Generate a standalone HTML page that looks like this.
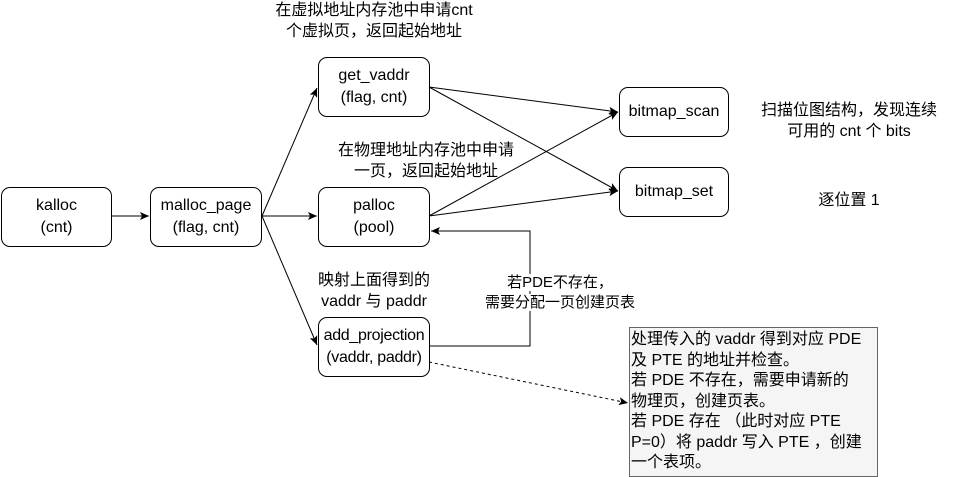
<!DOCTYPE html>
<html><head><meta charset="utf-8"><style>
body{margin:0;background:#fff;}
.wrap{position:relative;width:957px;height:477px;overflow:hidden;font-family:"Liberation Sans","Noto Sans CJK SC",sans-serif;font-size:16px;color:#000;}
.n{position:absolute;box-sizing:border-box;border:1px solid #000;border-radius:9px;background:#fff;display:flex;align-items:center;justify-content:center;text-align:center;line-height:22px;}
.t{position:absolute;text-align:center;line-height:21px;white-space:nowrap;}
</style></head><body><div class="wrap">
<svg width="957" height="477" style="position:absolute;left:0;top:0">
<defs><marker id="a" markerWidth="10" markerHeight="10" refX="9" refY="5" orient="auto" markerUnits="userSpaceOnUse"><path d="M0,1 L9,5 L0,9 L2,5 Z" fill="#000"/></marker></defs>
<g stroke="#000" stroke-width="1" fill="none">
<line x1="112" y1="216" x2="149" y2="216" marker-end="url(#a)"/>
<line x1="262" y1="216" x2="317" y2="88" marker-end="url(#a)"/>
<line x1="262" y1="216" x2="317" y2="216" marker-end="url(#a)"/>
<line x1="262" y1="216" x2="317" y2="345" marker-end="url(#a)"/>
<line x1="429" y1="87" x2="618" y2="112" marker-end="url(#a)"/>
<line x1="429" y1="87" x2="618" y2="191" marker-end="url(#a)"/>
<line x1="429" y1="216" x2="618" y2="112" marker-end="url(#a)"/>
<line x1="429" y1="216" x2="618" y2="191" marker-end="url(#a)"/>
<polyline points="429,346 530,346 530,231 431,231" marker-end="url(#a)"/>
<line x1="429" y1="362" x2="628" y2="403" stroke-dasharray="3,3" marker-end="url(#a)"/>
</g></svg>
<div class="n" style="left:1px;top:187px;width:111px;height:60px">kalloc<br>(cnt)</div>
<div class="n" style="left:150px;top:187px;width:112px;height:60px">malloc_page<br>(flag, cnt)</div>
<div class="n" style="left:318px;top:57px;width:112px;height:60px">get_vaddr<br>(flag, cnt)</div>
<div class="n" style="left:318px;top:187px;width:112px;height:60px">palloc<br>(pool)</div>
<div class="n" style="left:318px;top:317px;width:112px;height:60px;letter-spacing:-0.3px">add_projection<br>(vaddr, paddr)</div>
<div class="n" style="left:619px;top:87px;width:110px;height:50px">bitmap_scan</div>
<div class="n" style="left:619px;top:167px;width:110px;height:50px">bitmap_set</div>
<div class="t" style="left:254px;top:0px;width:240px">在虚拟地址内存池中申请cnt<br>个虚拟页，返回起始地址</div>
<div class="t" style="left:306px;top:140px;width:240px">在物理地址内存池中申请<br>一页，返回起始地址</div>
<div class="t" style="left:294px;top:270px;width:160px">映射上面得到的<br>vaddr 与 paddr</div>
<div class="t" style="left:465px;top:273px;width:190px;line-height:20px;font-size:15px"><span style="background:#fff">若PDE不存在，</span><br><span style="background:#fff">需要分配一页创建页表</span></div>
<div class="t" style="left:739px;top:100px;width:220px">扫描位图结构，发现连续<br>可用的 cnt 个 bits</div>
<div class="t" style="left:799px;top:190px;width:100px">逐位置 1</div>
<div style="position:absolute;left:629px;top:327px;width:249px;height:150px;box-sizing:border-box;border:1px solid #666;background:#f5f5f5;font-size:16px;line-height:20.5px;padding:2px 1px 0;white-space:nowrap;">处理传入的 vaddr 得到对应 PDE<br>及 PTE 的地址并检查。<br>若 PDE 不存在，需要申请新的<br>物理页，创建页表。<br>若 PDE 存在 （此时对应 PTE<br>P=0）将 paddr 写入 PTE ，创建<br>一个表项。</div>
</div></body></html>
